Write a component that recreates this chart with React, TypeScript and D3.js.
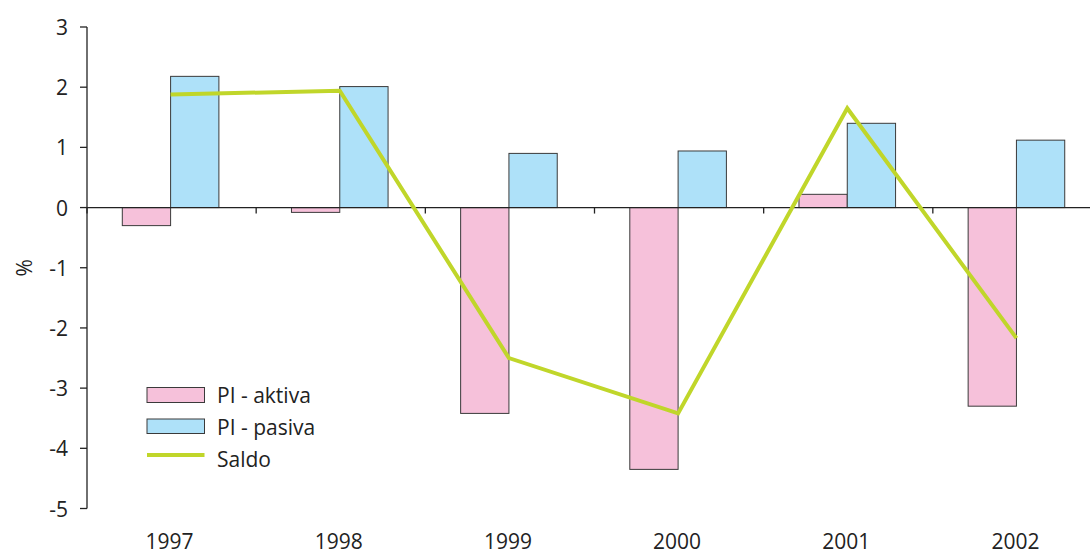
import React from "react";
import * as d3 from "d3";

const years = ["1997", "1998", "1999", "2000", "2001", "2002"];
const aktiva = [-0.3, -0.08, -3.42, -4.35, 0.22, -3.3];
const pasiva = [2.18, 2.01, 0.9, 0.94, 1.4, 1.12];
const saldo = [1.88, 1.94, -2.5, -3.42, 1.65, -2.17];
const yTicks = [3, 2, 1, 0, -1, -2, -3, -4, -5];

const W = 1090;
const H = 555;
const FONT = "'Open Sans', 'Noto Sans', sans-serif";
const PINK = "#f6c1da";
const BLUE = "#aee1f9";
const GREEN = "#c0d62a";
const STROKE = "#3a3a3a";

export default function App() {
  const x = d3.scaleBand<string>().domain(years).range([87, 1102]);
  const y = d3.scaleLinear().domain([-5, 3]).range([508.5, 27]);
  const barW = 48.3;
  const groupOffset = 35.3;
  const center = (i: number) => (x(years[i]) as number) + groupOffset + barW;

  const line = d3
    .line<number>()
    .x((_, i) => center(i))
    .y((d) => y(d));

  const y0 = y(0);

  return (
    <svg
      width={W}
      height={H}
      style={{ position: "absolute", left: 0, top: 0, background: "#fff" }}
      fontFamily={FONT}
    >
      {/* bars */}
      {years.map((yr, i) => {
        const bx = (x(yr) as number) + groupOffset;
        return (
          <g key={yr}>
            <rect
              x={bx}
              y={Math.min(y(aktiva[i]), y0)}
              width={barW}
              height={Math.abs(y(aktiva[i]) - y0)}
              fill={PINK}
              stroke={STROKE}
              strokeWidth={1}
            />
            <rect
              x={bx + barW}
              y={Math.min(y(pasiva[i]), y0)}
              width={barW}
              height={Math.abs(y(pasiva[i]) - y0)}
              fill={BLUE}
              stroke={STROKE}
              strokeWidth={1}
            />
          </g>
        );
      })}

      {/* zero line with category ticks */}
      <line x1={87} x2={W} y1={y0} y2={y0} stroke="#222" strokeWidth={1.3} />
      {years.map((yr) => (
        <line
          key={"t" + yr}
          x1={x(yr) as number}
          x2={x(yr) as number}
          y1={y0}
          y2={y0 + 6}
          stroke="#222"
          strokeWidth={1.3}
        />
      ))}

      {/* saldo line */}
      <path d={line(saldo) || ""} fill="none" stroke={GREEN} strokeWidth={4} strokeLinejoin="miter" />

      {/* y axis */}
      <line x1={87} x2={87} y1={y(3)} y2={y(-5)} stroke="#222" strokeWidth={1.3} />
      {yTicks.map((t) => (
        <g key={"y" + t}>
          <line x1={80} x2={87} y1={y(t)} y2={y(t)} stroke="#222" strokeWidth={1.3} />
          <text
            x={68}
            y={y(t)}
            textAnchor="end"
            dominantBaseline="central"
            fontSize={21}
            fill="#222"
          >
            {t}
          </text>
        </g>
      ))}

      {/* y axis title */}
      <text
        transform={`translate(24,${y(-1)}) rotate(-90)`}
        textAnchor="middle"
        dominantBaseline="central"
        fontSize={21}
        fill="#222"
      >
        %
      </text>

      {/* category labels */}
      {years.map((yr, i) => (
        <text
          key={"l" + yr}
          x={center(i) - 1}
          y={541}
          textAnchor="middle"
          dominantBaseline="central"
          fontSize={21}
          fill="#222"
        >
          {yr}
        </text>
      ))}

      {/* legend */}
      <g>
        <rect x={147} y={387.5} width={57.5} height={15} fill={PINK} stroke={STROKE} strokeWidth={1} />
        <text x={217} y={395} dominantBaseline="central" fontSize={21} fill="#222">
          PI - aktiva
        </text>
        <rect x={147} y={419} width={57.5} height={14.5} fill={BLUE} stroke={STROKE} strokeWidth={1} />
        <text x={217} y={426.5} dominantBaseline="central" fontSize={21} fill="#222">
          PI - pasiva
        </text>
        <line x1={147} x2={204.5} y1={455} y2={455} stroke={GREEN} strokeWidth={4} />
        <text x={217} y={459} dominantBaseline="central" fontSize={21} fill="#222">
          Saldo
        </text>
      </g>
    </svg>
  );
}
